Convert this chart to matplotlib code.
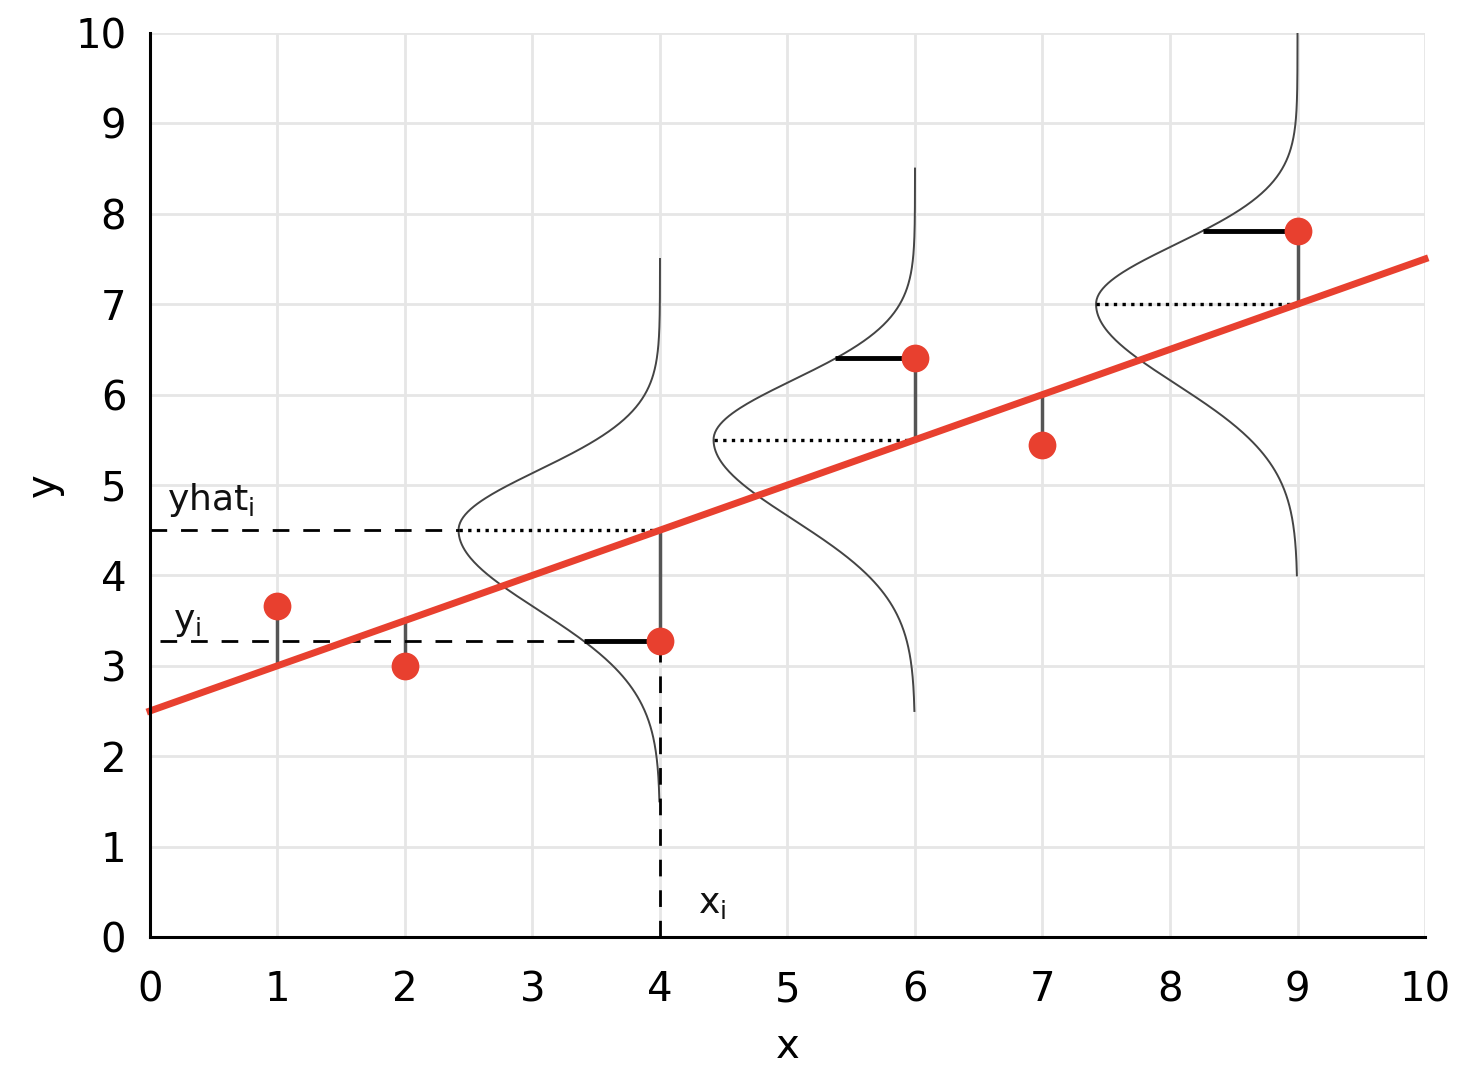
import numpy as np
import matplotlib
matplotlib.use("Agg")
import matplotlib.pyplot as plt

# data
x_points = [1, 2, 4, 6, 7, 9]
y_points = [3.66, 3.0, 3.27, 6.40, 5.44, 7.81]
intercept = 2.5
slope = 0.5
gauss_x = [4, 6, 9]
gauss_amp = 1.58
gauss_sigma_upper = 0.66
gauss_sigma_lower = 0.88
gauss_half = 3.0
ticks = list(range(0, 11))

RED = "#e8402f"

fig = plt.figure(figsize=(14.59, 10.74), dpi=100)
ax = fig.add_axes([0.1028, 0.1276, 0.8739, 0.8417])
ax.set_xlim(0, 10)
ax.set_ylim(0, 10)
ax.set_xticks(ticks)
ax.set_yticks(ticks)
ax.grid(True, color="#e6e6e6", linewidth=2, zorder=0)
ax.set_axisbelow(True)
for s in ["top", "right"]:
    ax.spines[s].set_visible(False)
for s in ["left", "bottom"]:
    ax.spines[s].set_linewidth(2.2)
    ax.spines[s].set_color("black")
    ax.spines[s].set_zorder(5)
ax.tick_params(length=0, labelsize=29)
ax.tick_params(axis="y", pad=17)
ax.tick_params(axis="x", pad=24)
ax.set_xlabel("x", fontsize=29, labelpad=12)
ax.set_ylabel("y", fontsize=29, labelpad=8)


def yhat(x):
    return intercept + slope * x


def gauss_curve_x(gx, yy):
    c = yhat(gx)
    sig = np.where(yy >= c, gauss_sigma_upper, gauss_sigma_lower)
    return gx - gauss_amp * np.exp(-(yy - c) ** 2 / (2 * sig ** 2))


# gaussians
for gx in gauss_x:
    c = yhat(gx)
    yy = np.linspace(c - gauss_half, c + gauss_half, 400)
    xx = gauss_curve_x(gx, yy)
    ax.plot(xx, yy, color="#444444", linewidth=1.4, zorder=3)
    peak = gx - gauss_amp
    ax.plot([peak, gx], [c, c], color="black", linewidth=2.4,
            linestyle=(0, (1, 1.6)), zorder=3)

# residual vertical lines
for xp, yp in zip(x_points, y_points):
    ax.plot([xp, xp], [yhat(xp), yp], color="#555555", linewidth=2.5, zorder=3)

# thick horizontal bars from curve to point
for xp, yp in zip(x_points, y_points):
    if xp in gauss_x:
        xc = float(gauss_curve_x(xp, np.array([yp]))[0])
        ax.plot([xc, xp], [yp, yp], color="black", linewidth=3.5, zorder=3,
                solid_capstyle="butt")

# dashed guide lines for x_i = 4
xi = 4
yi = y_points[x_points.index(xi)]
c4 = yhat(xi)
ax.plot([0, xi - gauss_amp], [c4, c4], color="black", linewidth=2,
        linestyle=(0, (6, 5)), zorder=3)
xc4 = float(gauss_curve_x(xi, np.array([yi]))[0])
ax.plot([0.08, xc4], [yi, yi], color="black", linewidth=2,
        linestyle=(0, (6, 5)), zorder=3)
ax.plot([xi, xi], [0, yi], color="black", linewidth=2,
        linestyle=(0, (6, 5)), zorder=3)

# regression line
xl = np.array([0, 10])
ax.plot(xl, yhat(xl), color=RED, linewidth=5, zorder=4, clip_on=False)

# points
ax.plot(x_points, y_points, "o", color=RED, markersize=20, zorder=6,
        markeredgewidth=0)

# labels
ax.text(0.13, 4.62, r"yhat$_{\mathregular{i}}$", fontsize=26, color="#111111",
        va="bottom", ha="left", zorder=7)
ax.text(0.18, 3.3, r"y$_{\mathregular{i}}$", fontsize=26, color="#111111",
        va="bottom", ha="left", zorder=7)
ax.text(4.3, 0.18, r"x$_{\mathregular{i}}$", fontsize=26, color="#111111",
        va="bottom", ha="left", zorder=7)

fig.savefig("out.png", dpi=100)
